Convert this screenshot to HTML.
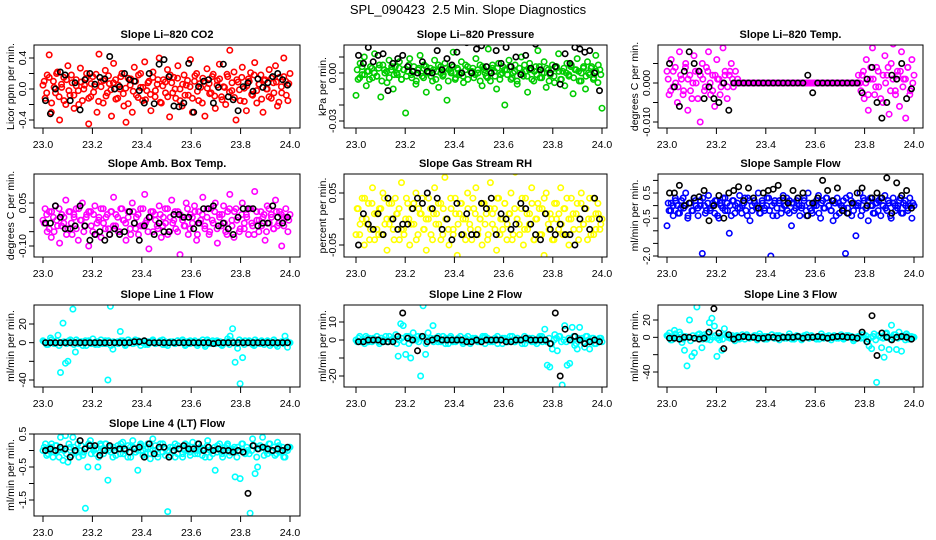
<!DOCTYPE html>
<html><head><meta charset="utf-8"><title>SPL_090423 Slope Diagnostics</title>
<style>
html,body{margin:0;padding:0;background:#fff;}
svg{display:block;font-family:"Liberation Sans",Arial,sans-serif;}
</style></head>
<body>
<svg id="chart" width="936" height="540" viewBox="0 0 936 540" xmlns="http://www.w3.org/2000/svg">
<rect width="936" height="540" fill="#fff"/>
<text x="468" y="14" text-anchor="middle" font-size="13">SPL_090423&#160; 2.5 Min. Slope Diagnostics</text>
</svg>
<script>
// ---- data (time axis 23.0 .. 24.0, points equally spaced) ----
const xTicks = [23.0, 23.2, 23.4, 23.6, 23.8, 24.0];
const xTickLabels = ["23.0", "23.2", "23.4", "23.6", "23.8", "24.0"];

const co2Values = [0.05,-0.12,0.18,0.44,-0.3,0.1,-0.05,0.22,-0.4,0.02,0.15,-0.2,0.3,-0.08,0.08,-0.25,0.12,-0.02,0.27,-0.15,
0.05,0.2,-0.45,-0.1,0.16,0.03,-0.3,0.45,0.1,-0.18,0.24,-0.05,0.07,-0.35,0.33,0.12,-0.12,0.0,0.2,-0.22,
-0.43,0.14,0.05,-0.3,0.28,-0.08,0.18,0.02,-0.15,0.35,-0.02,0.1,-0.28,0.22,-0.1,0.06,0.4,-0.18,0.12,-0.05,
0.25,-0.36,0.08,0.15,-0.12,0.3,0.0,-0.22,0.18,0.05,-0.08,0.38,-0.3,0.1,0.2,-0.15,0.02,0.14,-0.35,0.26,
0.07,-0.05,0.19,-0.25,0.11,0.32,-0.1,0.03,-0.2,0.16,0.5,-0.02,0.22,-0.4,0.09,-0.15,0.28,0.01,-0.28,0.13,
0.21,-0.08,0.34,-0.18,0.06,0.18,-0.3,0.12,0.0,0.25,-0.12,0.08,0.3,-0.22,0.15,-0.05,0.4,0.1,-0.15,0.2];
const co2Core = [0.1,-0.05,0.15,-0.18,0.02,0.2,-0.1,0.06,-0.15,0.12,-0.02,0.18,-0.08,0.04,-0.2,0.09,0.0,0.14,-0.12,0.07,
-0.04,0.19,-0.16,0.03,0.11,-0.09,0.17,-0.01,0.08,-0.13,0.05,0.16,-0.06,0.01,-0.19,0.13,-0.03,0.1,-0.11,0.2,
0.02,-0.14,0.08,-0.07,0.15,-0.02,0.12,-0.17,0.04,0.09,-0.1,0.18,-0.05,0.0,0.14,-0.15,0.06,-0.08,0.11,0.03,
-0.12,0.17,-0.03,0.07,-0.18,0.1,0.01,-0.06,0.16,-0.09,0.05,0.13,-0.14,0.02,0.19,-0.04,0.08,-0.11,0.12,-0.01,
0.15,-0.16,0.04,0.1,-0.07,0.18,-0.02,0.06,-0.13,0.11,0.0,-0.1,0.14,-0.05,0.09,-0.17,0.03,0.16,-0.08,0.07];
const co2Black = [-0.15,-0.32,0.0,0.22,0.18,-0.15,0.08,-0.27,0.12,0.2,0.06,0.15,0.13,0.42,0.0,0.03,0.2,0.12,0.1,-0.02,-0.18,0.2,-0.19,0.32,0.38,0.16,-0.22,-0.23,-0.18,0.33,-0.3,0.03,0.1,0.12,-0.18,0.02,0.32,-0.1,-0.14,-0.28,0.03,0.08,-0.03,0.13,0.02,0.08,0.16,0.2,0.12,0.05];

const pressValues = [-0.014,-0.004,0.006,-0.001,0.010,-0.008,0.001,0.004,-0.003,0.012,-0.002,0.003,-0.015,0.005,0.000,-0.006,0.008,0.002,-0.010,0.004,
-0.001,0.007,-0.004,0.002,-0.025,0.001,0.009,-0.003,0.004,-0.007,0.002,0.011,-0.002,0.005,-0.012,0.000,0.003,-0.005,0.008,0.001,
-0.009,0.004,-0.002,0.006,-0.017,0.002,0.000,0.013,-0.004,0.003,-0.001,0.007,-0.006,0.002,0.004,-0.038,0.001,-0.003,0.009,0.000,
0.005,-0.008,0.002,-0.002,0.015,-0.005,0.003,0.001,-0.010,0.006,-0.001,0.004,-0.020,0.002,0.008,-0.004,0.000,0.005,-0.007,0.003,
0.010,-0.002,0.001,-0.012,0.006,0.002,-0.005,0.004,0.014,-0.003,0.000,0.007,-0.009,0.002,-0.001,0.005,-0.006,0.003,0.012,-0.004,
0.001,-0.008,0.006,-0.002,0.004,-0.013,0.002,0.009,-0.005,0.000,0.003,-0.010,0.007,-0.001,0.004,-0.003,0.011,-0.006,0.002,-0.022];
const pressCore = [0.002,-0.003,0.004,-0.001,0.001,-0.004,0.003,0.000,-0.002,0.005,-0.005,0.002,0.001,-0.003,0.004,-0.001,0.000,0.003,-0.004,0.002,
-0.002,0.005,-0.001,0.001,-0.005,0.003,0.000,-0.003,0.004,0.001,-0.002,0.002,-0.004,0.005,0.000,-0.001,0.003,-0.005,0.001,0.004,
-0.003,0.002,0.000,-0.002,0.005,-0.004,0.001,0.003,-0.001,0.002,-0.005,0.004,0.000,-0.003,0.001,0.005,-0.002,0.003,-0.004,0.000,
0.002,-0.001,0.004,-0.003,0.001,-0.005,0.003,0.000,0.005,-0.002,0.002,-0.004,0.001,-0.001,0.004,-0.003,0.000,0.003,-0.005,0.002,
-0.002,0.004,0.001,-0.004,0.003,0.000,-0.001,0.005,-0.003,0.002,0.001,-0.005,0.004,-0.002,0.000,0.003,-0.004,0.001,0.005,-0.001];
const pressBlack = [0.011,0.006,0.016,0.007,0.011,0.012,-0.011,0.006,0.009,0.011,0.004,0.001,0.0,0.007,0.001,0.0,0.014,0.002,0.009,0.005,0.013,0.0,0.019,0.0,0.015,0.017,0.004,0.0,0.014,0.006,0.016,0.004,0.010,-0.001,0.011,0.003,0.018,0.002,0.020,0.0,0.004,-0.007,0.012,0.006,0.016,0.015,0.013,0.014,0.0,-0.011];

const tempValues = [0.003,-0.003,0.006,-0.001,0.004,-0.005,0.008,0.001,-0.002,0.005,-0.007,0.002,-0.004,0.007,0.0,0.003,-0.010,0.005,-0.002,0.004,0.008,-0.003,0.002,-0.006,0.006,0.001,-0.001,0.009,0.003,-0.004,0.002,0.005,-0.001,0.003,0.001,0.0,
0,0,0,0,0,0,0,0,0,0,0,0,0,0,0,0,0,0,0,0,0,0,0,0,0,0,0,0,0,0,0,0,0,0,0,0,0,0,0,0,0,0,0,0,0,0,0,0,0,0,0,0,0,0,0,0,0,0,
0.002,-0.004,0.006,-0.007,0.001,0.009,-0.003,0.004,-0.001,0.013,-0.005,0.007,0.002,-0.008,0.005,0.010,-0.002,0.003,-0.006,0.008,0.001,-0.009,0.004,-0.003,0.006,0.002];
const tempCore = [0.001,-0.002,0.003,0.0,-0.001,0.002,-0.003,0.004,0.001,-0.002,0.0,0.003,-0.004,0.002,0.001,-0.001,0.003,0.0,-0.002,0.002,0.001,-0.003,0.0,0.002,-0.001,0.003,0.001,0.0,
0,0,0,0,0,0,0,0,0,0,0,0,0,0,0,0,0,0,0,0,0,0,0,0,0,0,0,0,0,0,0,0,0,0,0,0,0,0,0,0,0,0,0,0,0,0,0,0,0,
0.002,-0.002,0.003,0.0,-0.003,0.004,0.001,-0.001,0.003,-0.004,0.002,0.0,0.004,-0.002,0.001,-0.003,0.002,0.003,-0.001,0.001,0.004,-0.002,0.0];
const tempBlack = [0.005,-0.001,-0.006,0.003,0.008,0.005,0.003,-0.004,-0.001,-0.004,-0.005,0,-0.007,0,0,0,0,0,0,0,0,0,0,0,0,0,0,0,0.002,-0.0025,0,0,0,0,0,0,0,0,0,-0.0025,0.001,0.004,-0.005,-0.009,-0.005,0.002,0.001,0.005,-0.004,-0.0015];

const ambValues = [-0.01,0.03,-0.05,0.02,-0.07,0.0,0.04,-0.03,-0.09,0.01,-0.02,0.06,-0.04,0.02,-0.06,0.0,0.03,-0.08,-0.01,0.05,
-0.03,0.01,-0.10,0.02,-0.05,0.04,-0.02,0.0,-0.07,0.03,-0.04,0.01,-0.06,0.02,0.07,-0.03,0.0,-0.05,0.03,-0.01,
-0.08,0.02,-0.04,0.05,-0.02,0.0,-0.06,0.03,-0.03,0.08,-0.01,-0.11,0.02,-0.05,0.01,-0.03,0.04,-0.07,0.0,-0.02,
0.03,-0.05,0.06,-0.01,-0.04,0.02,-0.13,0.0,-0.03,0.05,-0.06,0.01,-0.02,0.04,-0.08,0.02,-0.01,0.07,-0.04,0.0,
-0.06,0.03,-0.02,0.05,-0.09,0.01,-0.03,0.04,-0.05,0.02,0.08,-0.01,-0.07,0.03,0.0,-0.04,0.05,-0.02,0.01,-0.06,
0.03,-0.03,0.09,-0.01,-0.05,0.02,0.0,-0.08,0.04,-0.02,0.01,-0.04,0.06,-0.03,0.02,-0.10,0.0,0.03,-0.05,0.01];
const ambCore = [-0.02,0.01,-0.04,0.02,-0.05,-0.01,0.03,-0.03,0.0,-0.06,0.02,-0.02,0.01,-0.04,0.03,-0.01,-0.05,0.0,0.02,-0.03,
0.01,-0.06,-0.01,0.03,-0.02,0.0,-0.04,0.02,-0.03,0.01,-0.05,0.03,-0.01,-0.02,0.0,-0.06,0.02,-0.04,0.01,-0.03,
0.03,-0.02,-0.05,0.0,0.02,-0.01,-0.04,0.01,-0.03,0.03,-0.06,0.0,-0.02,0.02,-0.05,0.01,-0.01,-0.03,0.03,-0.04,
0.0,0.02,-0.06,-0.02,0.01,-0.03,0.03,-0.05,-0.01,0.02,-0.04,0.0,0.01,-0.02,-0.06,0.03,-0.03,0.02,-0.01,-0.05,
0.01,-0.04,0.0,0.03,-0.02,-0.06,0.02,-0.01,-0.03,0.01,-0.05,0.03,0.0,-0.04,0.02,-0.02,0.01,-0.03,0.0,-0.01];
const ambBlack = [-0.02,-0.02,0.04,0.0,-0.04,-0.04,-0.03,0.04,-0.03,-0.08,-0.06,-0.05,-0.08,-0.06,-0.04,-0.06,-0.05,0.02,-0.02,-0.08,-0.03,0.0,-0.06,-0.02,-0.05,-0.05,0.01,0.01,0.0,0.0,-0.04,-0.02,0.03,0.03,0.04,-0.03,-0.02,-0.04,-0.06,0.0,0.03,0.03,0.03,-0.03,-0.02,-0.02,0.04,0.0,-0.02,0.0];

const rhValues = [-0.03,0.02,-0.01,0.04,-0.05,0.0,0.03,-0.02,0.06,-0.04,0.01,-0.03,0.02,0.05,-0.01,-0.06,0.03,0.0,-0.02,0.04,
0.01,-0.04,0.07,-0.02,0.0,0.03,-0.05,0.02,-0.01,0.05,-0.03,0.01,0.04,-0.02,-0.06,0.0,0.02,-0.04,0.06,0.01,
-0.01,0.03,-0.03,0.08,0.0,-0.05,0.02,-0.02,0.04,-0.07,0.01,0.03,-0.03,0.0,0.05,-0.01,-0.04,0.02,0.06,-0.02,
0.0,-0.05,0.03,0.01,-0.03,0.07,-0.01,0.02,-0.06,0.04,0.0,-0.02,0.03,-0.04,0.01,0.05,-0.03,0.09,0.0,-0.01,
0.02,-0.05,0.04,-0.02,0.01,0.06,-0.04,0.0,0.03,-0.03,0.02,-0.07,0.05,-0.01,0.01,-0.04,0.03,0.0,-0.02,0.06,
-0.03,0.02,0.04,-0.05,0.0,0.01,-0.08,0.03,-0.02,0.05,-0.01,0.02,-0.04,0.04,0.0,-0.03,0.01,0.03,-0.02,0.0];
const rhCore = [0.02,-0.03,0.0,0.04,-0.01,-0.04,0.03,0.01,-0.02,0.02,-0.03,0.04,0.0,-0.01,0.03,-0.04,0.01,0.02,-0.02,-0.03,
0.04,0.0,-0.01,0.03,-0.04,0.02,0.01,-0.02,0.0,0.04,-0.03,0.01,-0.01,0.03,-0.04,0.02,0.0,-0.02,0.04,-0.03,
0.01,-0.01,0.03,0.0,-0.04,0.02,-0.02,0.04,0.01,-0.03,0.0,0.03,-0.01,-0.04,0.02,0.01,-0.02,0.04,-0.03,0.0,
0.03,-0.01,0.01,-0.04,0.02,0.0,-0.03,0.04,-0.02,0.01,-0.01,0.03,-0.04,0.0,0.02,-0.03,0.04,0.01,-0.02,0.0,
-0.04,0.03,0.01,-0.01,0.02,-0.03,0.0,0.04,-0.02,0.01,-0.04,0.03,-0.01,0.02,0.0,-0.03,0.04,-0.02,0.01,-0.01];
const rhBlack = [-0.05,0.01,-0.01,-0.02,0.01,-0.03,0.04,0.0,-0.02,-0.01,-0.01,0.02,0.04,0.03,0.05,0.02,0.04,-0.02,0.0,-0.04,0.03,-0.03,0.01,-0.03,-0.03,0.03,0.02,0.04,-0.03,0.01,0.0,-0.02,-0.01,0.03,0.02,-0.01,-0.03,-0.04,0.01,-0.02,-0.03,-0.01,-0.03,-0.03,-0.05,0.0,0.02,-0.02,0.04,0.0];

const sampleValues = [-0.8,-0.2,0.1,-0.4,0.3,0.0,-0.3,0.2,-0.1,0.5,-0.5,0.1,-0.2,0.3,0.0,-0.4,0.2,-1.9,0.0,-0.2,
0.4,-0.1,0.1,-0.3,0.2,-0.5,0.0,0.3,-0.2,0.1,-1.1,-0.4,0.2,0.0,-0.1,0.4,-0.3,0.1,-0.2,0.3,
-0.6,0.0,0.2,-0.1,0.5,-0.3,0.1,-0.2,0.0,0.3,-2.0,-0.4,0.2,-0.1,0.1,-0.3,0.4,0.0,-0.2,0.2,
-0.8,0.1,-0.1,0.3,-0.4,0.0,0.2,-0.2,0.5,-0.1,-0.3,0.1,0.0,0.4,-0.5,0.2,-0.1,0.3,0.0,-0.2,
-0.6,0.1,0.3,-0.3,0.0,0.2,-1.9,-0.1,0.4,-0.4,0.1,-1.2,0.0,0.5,-0.2,0.2,-0.1,-0.6,0.3,0.0,
-0.3,0.1,0.2,-0.4,0.0,0.4,-0.2,0.1,-0.5,0.3,0.0,-0.1,0.2,-0.3,0.1,0.0,-0.2,0.3,-0.5,0.0];
const sampleCore = [0.1,-0.2,0.0,0.2,-0.3,-0.1,0.3,0.0,-0.4,0.1,-0.2,0.2,-0.1,0.0,0.3,-0.3,0.1,-0.2,0.0,0.2,
-0.4,0.1,-0.1,0.3,-0.2,0.0,0.2,-0.3,0.1,-0.1,0.0,0.3,-0.4,0.2,-0.2,0.1,0.0,-0.3,0.2,-0.1,
0.3,-0.2,0.0,0.1,-0.4,0.2,-0.1,0.0,0.3,-0.3,0.1,-0.2,0.2,0.0,-0.1,0.3,-0.4,0.1,-0.2,0.0,
0.2,-0.3,0.1,-0.1,0.3,0.0,-0.2,0.2,-0.4,0.1,0.0,-0.1,0.3,-0.3,0.2,-0.2,0.0,0.1,-0.4,0.3,
-0.1,0.2,0.0,-0.3,0.1,-0.2,0.3,0.0,-0.1,0.2,-0.4,0.1,-0.2,0.0,0.3,-0.3,0.2,-0.1,0.0,0.1];
const sampleBlack = [0.5,0.5,0.8,0.0,0.1,0.3,0.35,0.6,-0.6,0.0,0.4,-0.5,0.5,0.6,0.75,0.2,0.7,0.3,-0.1,0.5,0.6,0.65,0.8,0.3,0.1,0.6,0.3,0.5,-0.4,0.1,0.3,1.0,0.6,0.2,0.7,-0.2,-0.3,0.1,0.5,0.7,0.0,0.3,0.5,0.3,1.1,-0.3,0.9,0.4,0.6,-0.1];

const line1Values = [2,0,-2,5,1,-1,8,-32,21,-22,-20,3,36,-10,1,0,-3,2,1,0,4,-2,1,0,-1,2,-40,39,-7,0,1,12,2,-3,0,1,-1,3,0,1,
0,-2,1,0,2,-1,0,1,3,-2,0,1,0,-1,2,0,1,-3,0,2,1,0,-1,0,3,-4,1,0,2,-1,0,1,-2,0,4,7,15,-21,-6,-44,-16,
2,0,1,-2,3,0,-1,1,0,2,-3,0,1,-4,0,1,7,-5,0];
const line1Core = [1,-2,0,3,-1,2,-3,0,1,-1,2,0,-2,3,-1,1,0,-3,2,-1,0,1,-2,3,0,-1,2,-3,1,0,-1,2,0,-2,3,1,-1,0,2,-3,1,0,-2,1,3,-1,0,2,-2,1,
-3,0,1,-1,2,0,3,-2,1,-1,0,2,-3,1,0,-2,3,-1,0,1,2,-1,-3,0,1,-2,2,0,-1,3,1,-2,0,2,-1,-3,1,0,2,-2,0,1,-1,3,-2,0,1,-1,2,0];
const line1Black = [0,0,0,0,0,0,0,0,0,0,0,0,0,0,0,0,0,0,1,1,2,0,0,0,0,0,0,0,0,0,0,0,0,0,-1,0,0,0,0,0,0,0,0,0,0,0,0,0,0,0];

const line2Values = [0,1,-1,0,2,-1,0,1,0,-1,1,0,2,-1,0,1,3,-9,9,8,-8,2,-10,4,0,2,-20,19,-8,4,1,8,
1,-1,0,2,-2,0,1,-1,0,0,2,-1,1,0,-2,1,0,0,-1,1,2,0,-1,0,1,-2,0,1,0,-1,2,0,-1,1,0,0,-2,1,0,1,-1,0,2,-1,
6,-14,-15,-5,3,-6,2,-25,8,-14,-13,7,-3,-5,7,1,-4,2,-5,1,-2,0,1,-1];
const line2Core = [-1,2,0,-2,1,1,-1,0,2,-2,1,0,-1,2,0,1,-2,0,1,-1,2,-2,0,1,0,-1,2,1,-2,0,1,-1,0,2,-1,0,1,-2,2,0,-1,1,0,-2,1,2,-1,0,1,-1,
0,2,-2,1,0,-1,1,2,0,-2,1,-1,0,2,-1,1,0,-2,2,0,1,-1,0,-2,1,2,0,-1,1,-2,0,1,2,-1,0,-1,1,0,2,-2,1,0,-1,2,0,-1,1,-2,0,1];
const line2Black = [-1,-1,0,0,0,-1,-1,-1,2,15,1,0,-6,2,-1,0,1,0,0,0,0,0,-1,-1,0,-1,0,0,0,0,-1,-1,0,0,1,0,0,0,0,-2,15,-20,6,0,2,0,-2,-1,0,-1];

const line3Values = [2,5,-3,8,0,6,-6,-15,-33,20,-22,-18,35,4,-12,3,-2,17,22,13,-22,-3,-15,10,2,
1,-1,0,2,-2,0,1,3,-1,0,2,-1,1,0,-2,1,0,3,-1,1,2,0,-1,0,1,-2,0,1,0,-1,2,0,-1,1,0,0,-2,1,0,1,-1,0,2,-1,1,0,-1,2,0,1,-2,0,1,3,-1,
-5,-10,-13,4,-52,2,-12,-23,5,-14,14,3,-14,6,-16,2,4,-2,1,0];
const line3Core = [2,-3,0,4,-1,3,-2,1,0,-4,2,-1,3,0,-2,1,4,-3,0,2,-1,1,-2,3,0,-1,2,-4,1,0,3,-2,1,-1,0,2,-3,4,0,1,-2,0,3,-1,2,-3,1,0,-1,4,
0,-2,2,1,-3,0,3,-1,2,0,-2,1,4,-1,0,2,-3,1,0,-1,3,-2,0,2,1,-4,0,1,-1,3,2,-2,0,1,-3,2,0,-1,4,1,-2,0,3,-1,1,0,-3,2,-1,0];
const line3Black = [-1,-1,-2,0,0,-1,-2,-1,6,33,5,-13,3,-2,0,1,0,0,-1,-1,0,0,-1,0,0,0,1,-1,0,0,1,0,-1,0,1,1,0,0,-1,6,-5,25,-21,5,0,-3,0,1,0,-2];

const line4Values = [0.0,0.2,-0.1,0.1,-0.2,0.15,0.0,0.4,-0.3,0.45,-0.35,0.1,0.4,-0.05,0.2,0.0,-0.15,-1.75,-0.5,0.3,0.1,-0.1,-0.5,0.2,0.0,0.2,-0.9,0.1,-0.2,0.0,
0.15,-0.1,0.25,0.0,-0.2,0.1,0.3,-0.05,-0.6,0.15,0.0,-0.1,0.2,-0.25,0.35,0.0,-0.1,0.1,0.2,-0.15,
-1.85,0.1,0.0,-0.2,0.15,0.05,-0.1,0.2,0.0,-0.15,0.25,0.0,-0.1,0.1,0.05,-0.2,0.3,0.0,-0.1,-0.6,
0.15,0.0,-0.2,0.1,0.2,-0.05,0.0,-0.8,0.1,-0.85,0.2,-0.1,0.0,-1.9,0.35,-0.7,-0.5,0.15,0.4,0.1,
-0.1,0.2,0.0,-0.15,0.25,-0.05,0.1,-0.2,0.0,0.1];
const line4Core = [0.1,-0.15,0.0,0.2,-0.05,0.15,-0.2,0.05,0.0,-0.1,0.2,-0.15,0.1,0.0,-0.2,0.15,-0.05,0.1,0.2,-0.1,0.0,0.05,-0.2,0.15,-0.1,0.2,0.0,-0.05,0.1,-0.15,
0.05,0.2,-0.1,0.0,0.15,-0.2,0.1,-0.05,0.0,0.2,-0.15,0.05,0.1,-0.1,0.0,0.15,-0.2,0.2,-0.05,0.05,0.0,-0.15,0.1,0.2,-0.1,0.05,-0.2,0.0,0.15,-0.05,
0.1,-0.1,0.2,0.0,-0.15,0.05,0.15,-0.2,0.0,0.1,-0.05,0.2,-0.1,0.0,0.15,-0.15,0.05,0.1,-0.2,0.0,0.2,-0.05,0.1,-0.1,0.0,0.15,-0.2,0.05,0.1,-0.15,
0.0,0.2,-0.05,0.1,-0.1,0.15,0.0,-0.2,0.05,0.1];
const line4Black = [0.0,0.05,0.0,0.1,0.05,-0.2,0.0,0.3,0.05,0.15,0.15,-0.15,0.0,0.15,0.0,0.05,0.05,-0.05,0.05,0.1,-0.2,0.2,-0.1,0.1,0.1,-0.2,0.0,0.05,0.15,0.05,0.05,0.2,0.0,0.1,0.0,0.05,0.0,0.0,-0.05,0.0,-0.05,-1.3,0.15,0.05,0.1,0.05,0.0,0.05,0.0,0.1];

// ---- layout ----
const NS = "http://www.w3.org/2000/svg";
const svg = document.getElementById("chart");
const cols = [{l:34,r:300,x0:43,x1:290,lab:10},{l:344,r:607,x0:356,x1:602,lab:322},{l:658,r:923,x0:667,x1:914,lab:634}];
const rows = [{t:45,b:128},{t:174,b:257},{t:305,b:387},{t:434,b:516}];

const panels = [
 {name:"co2",title:"Slope Li\u2013820 CO2",ylab:"Licor ppm per min.",c:0,r:0,color:"#ff0000",vals:co2Values,core:co2Core,blk:co2Black,v1:0.4,p1:58,v2:-0.4,p2:120,ticks:[-0.4,-0.2,0,0.2,0.4],labels:{"0.4":"0.4","0":"0.0","-0.4":"-0.4"}},
 {name:"pressure",title:"Slope Li\u2013820 Pressure",ylab:"kPa per min.",c:1,r:0,color:"#00cc00",vals:pressValues,core:pressCore,blk:pressBlack,v1:0,p1:73,v2:-0.03,p2:121,ticks:[-0.03,-0.02,-0.01,0,0.01],labels:{"0":"0.00","-0.03":"-0.03"}},
 {name:"li820-temp",title:"Slope Li\u2013820 Temp.",ylab:"degrees C per min.",c:2,r:0,color:"#ff00ff",vals:tempValues,core:tempCore,blk:tempBlack,v1:0,p1:83,v2:-0.01,p2:122,ticks:[-0.01,-0.005,0,0.005],labels:{"0":"0.000","-0.01":"-0.010"}},
 {name:"amb-box-temp",title:"Slope Amb. Box Temp.",ylab:"degrees C per min.",c:0,r:1,color:"#ff00ff",vals:ambValues,core:ambCore,blk:ambBlack,v1:0.05,p1:203,v2:-0.10,p2:246,ticks:[-0.1,-0.05,0,0.05],labels:{"0.05":"0.05","-0.1":"-0.10"}},
 {name:"gas-stream-rh",title:"Slope Gas Stream RH",ylab:"percent per min.",c:1,r:1,color:"#ffff00",vals:rhValues,core:rhCore,blk:rhBlack,v1:0.05,p1:193,v2:-0.05,p2:245,ticks:[-0.05,0,0.05],labels:{"0.05":"0.05","-0.05":"-0.05"}},
 {name:"sample-flow",title:"Slope Sample Flow",ylab:"ml/min per min.",c:2,r:1,color:"#0000ff",vals:sampleValues,core:sampleCore,blk:sampleBlack,v1:0.5,p1:193,v2:-2.0,p2:256,ticks:[-2,-1.5,-1,-0.5,0,0.5,1],labels:{"0.5":"0.5","-0.5":"-0.5","-2":"-2.0"}},
 {name:"line1-flow",title:"Slope Line 1 Flow",ylab:"ml/min per min.",c:0,r:2,color:"#00ffff",vals:line1Values,core:line1Core,blk:line1Black,v1:20,p1:324,v2:-40,p2:380,ticks:[-40,-20,0,20],labels:{"20":"20","0":"0","-40":"-40"}},
 {name:"line2-flow",title:"Slope Line 2 Flow",ylab:"ml/min per min.",c:1,r:2,color:"#00ffff",vals:line2Values,core:line2Core,blk:line2Black,v1:10,p1:322,v2:-20,p2:376,ticks:[-20,-10,0,10],labels:{"10":"10","0":"0","-20":"-20"}},
 {name:"line3-flow",title:"Slope Line 3 Flow",ylab:"ml/min per min.",c:2,r:2,color:"#00ffff",vals:line3Values,core:line3Core,blk:line3Black,v1:20,p1:320,v2:-40,p2:372,ticks:[-40,-20,0,20],labels:{"20":"20","0":"0","-40":"-40"}},
 {name:"line4-flow",title:"Slope Line 4 (LT) Flow",ylab:"ml/min per min.",c:0,r:3,color:"#00ffff",vals:line4Values,core:line4Core,blk:line4Black,v1:0.5,p1:434,v2:-1.5,p2:500,ticks:[-1.5,-1,-0.5,0,0.5],labels:{"0.5":"0.5","-0.5":"-0.5","-1.5":"-1.5"}}
];

function mk(tag, attrs, parent){
  const e = document.createElementNS(NS, tag);
  for (const k in attrs) e.setAttribute(k, attrs[k]);
  (parent||svg).appendChild(e);
  return e;
}

panels.forEach(p => {
  const col = cols[p.c], row = rows[p.r];
  const xs = t => col.x0 + (t - 23) * (col.x1 - col.x0);
  const ys = v => p.p1 + (v - p.v1) * (p.p2 - p.p1) / (p.v2 - p.v1);
  const g = mk("g", {});
  
  
  const clipId = "clip-" + p.name;
  const cp = mk("clipPath", {id: clipId}, g);
  mk("rect", {x: col.l, y: row.t, width: col.r - col.l, height: row.b - row.t}, cp);

  const title = mk("text", {x: (col.l + col.r) / 2, y: row.t - 7, "text-anchor": "middle", "font-size": "11", "font-weight": "bold"}, g);
  
  
  title.textContent = p.title;

  const yl = mk("text", {x: 0, y: 0, "text-anchor": "middle", "font-size": "10.5", transform: `translate(${col.lab + 4},${(row.t + row.b) / 2}) rotate(-90)`}, g);
  
  
  yl.textContent = p.ylab;

  const pts = mk("g", {"clip-path": `url(#${clipId})`, fill: "none", "stroke-width": "1.6"}, g);
  
  
  const n = p.vals.length;
  p.vals.forEach((v, i) => {
    const c = mk("circle", {cx: xs(23 + i / (n - 1)).toFixed(1), cy: ys(v).toFixed(1), r: 2.7, stroke: p.color}, pts);
    
    
  });
  const k = p.core.length;
  p.core.forEach((v, i) => {
    const c = mk("circle", {cx: xs(23 + (i + 0.5) / k).toFixed(1), cy: ys(v).toFixed(1), r: 2.7, stroke: p.color}, pts);
    
    
  });
  const m = p.blk.length;
  p.blk.forEach((v, i) => {
    const c = mk("circle", {cx: xs(23.01 + 0.98 * i / (m - 1)).toFixed(1), cy: ys(v).toFixed(1), r: 2.7, stroke: "#000"}, pts);
    
    
  });

  const box = mk("rect", {x: col.l, y: row.t, width: col.r - col.l, height: row.b - row.t, fill: "none", stroke: "#000", "stroke-width": "1"}, g);
  
  

  const xa = mk("g", {}, g);
  
  
  xTicks.forEach((t, i) => {
    const x = xs(t);
    mk("line", {x1: x, x2: x, y1: row.b, y2: row.b + 6, stroke: "#000"}, xa);
    const tl = mk("text", {x: x, y: row.b + 20, "text-anchor": "middle", "font-size": "10.5"}, xa);
    
    
    tl.textContent = xTickLabels[i];
  });

  const ya = mk("g", {}, g);
  
  
  p.ticks.forEach(t => {
    const y = ys(t);
    mk("line", {x1: col.l - 5, x2: col.l, y1: y, y2: y, stroke: "#000"}, ya);
    const key = String(t);
    if (p.labels[key] !== undefined) {
      const tl = mk("text", {x: 0, y: 0, "text-anchor": "middle", "font-size": "10.5", transform: `translate(${col.l - 8},${y}) rotate(-90)`}, ya);
      
      
      tl.textContent = p.labels[key];
    }
  });
});
</script>
</body></html>
